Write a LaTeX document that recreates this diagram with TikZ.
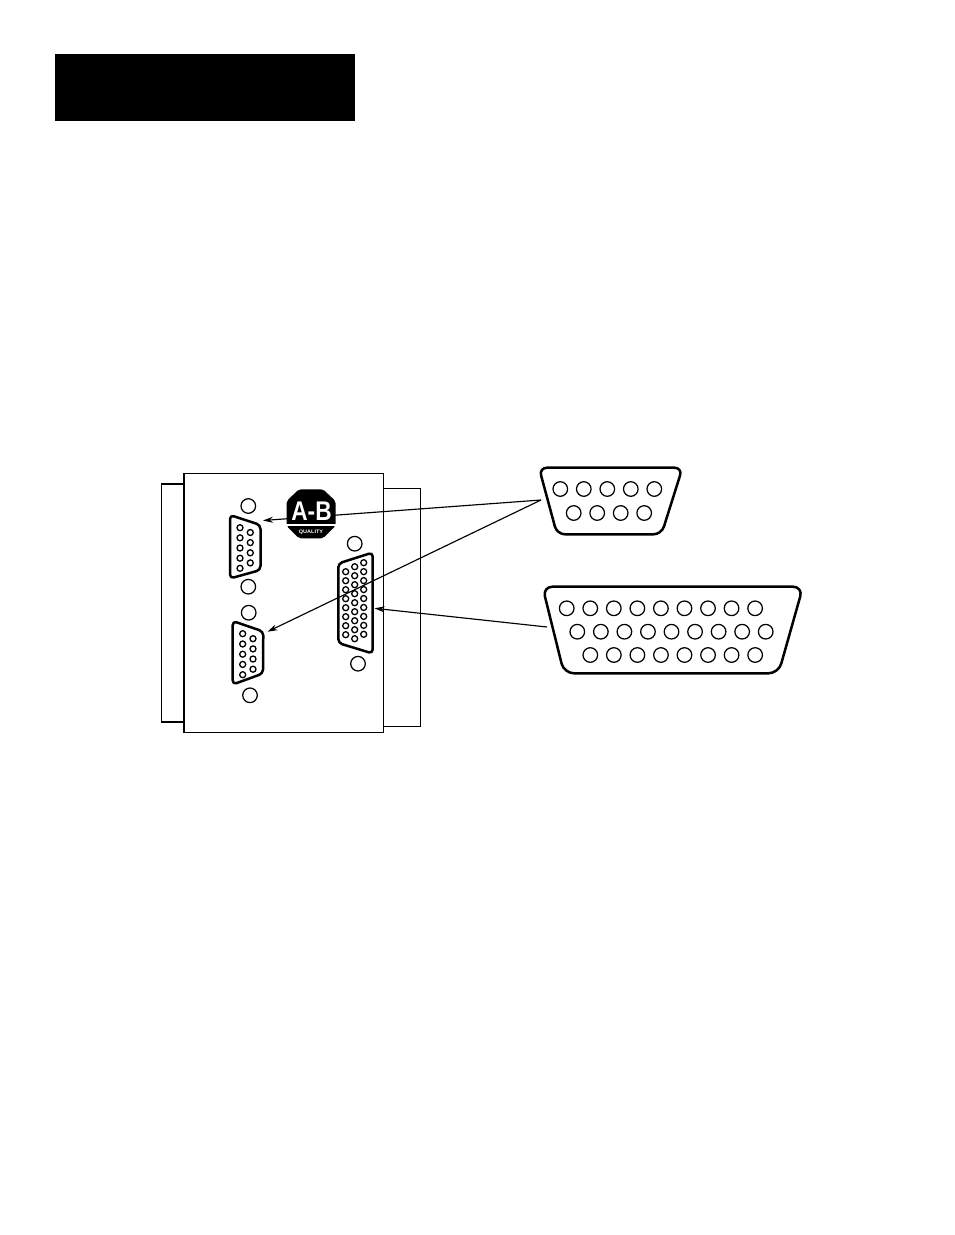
\documentclass[tikz,border=0pt]{standalone}
\usepackage{fontspec}
\setmainfont{Liberation Sans}
\usetikzlibrary{arrows.meta}
\tikzset{
    shell/.style={line width=2.5pt, line join=round, rounded corners=4pt},
    pin/.style={line width=1.3pt},
    hole/.style={line width=1.25pt},
    callout/.style={line width=1.15pt, -{Stealth[length=10pt,width=6pt]}},
    logotext/.style={text=white, inner sep=0pt, font=\bfseries}
}
\begin{document}
\begin{tikzpicture}[x=1pt,y=-1pt]
        \useasboundingbox (0,0) rectangle (954,1235);

        % Title bar
        \fill[black] (55,54) rectangle (355,121);

        % Side plates and front panel
        \draw[line width=1.6pt] (183.5,484) -- (161.5,484) -- (161.5,722) -- (183.5,722);
        \draw[line width=1pt] (383,488.5) -- (420.5,488.5) -- (420.5,726) -- (383,726);
        \draw[line width=1.4pt] (184,473.5) rectangle (383.5,732.5);

        % Upper 9 pin socket on panel
        \draw[shell] (230,515) -- (260.5,525) -- (260.5,570) -- (230,578.5) -- cycle;
        \foreach \y in {527.7,537.8,548,558.2,568.3} \draw[pin] (240,\y) circle (3);
        \foreach \y in {532.5,542.6,552.8,562.9} \draw[pin] (250.3,\y) circle (3);
        \draw[hole] (248.3,506) circle (7.3);
        \draw[hole] (248.3,586.7) circle (7.3);

        % Lower 9 pin socket on panel
        \draw[shell] (232.7,621) -- (263.3,631.5) -- (263,673.5) -- (232.7,684.5) -- cycle;
        \foreach \y in {633.7,644,654.2,664.4,674.7} \draw[pin] (242.7,\y) circle (3);
        \foreach \y in {638.7,648.9,659,669.2} \draw[pin] (253,\y) circle (3);
        \draw[hole] (248.7,612.7) circle (7.3);
        \draw[hole] (250,695.3) circle (7.3);

        % 25 pin socket on panel
        \draw[shell] (338.3,563.5) -- (372.7,552.5) -- (372.7,653.5) -- (338.3,643) -- cycle;
        \foreach \k in {0,...,7} \draw[pin] (345.7,571.7+9*\k) circle (3);
        \foreach \k in {0,...,8} \draw[pin] (354.7,566.7+9*\k) circle (3);
        \foreach \k in {0,...,8} \draw[pin] (363.7,562.7+8.95*\k) circle (3);
        \draw[hole] (354.7,543.7) circle (7.3);
        \draw[hole] (358,663.7) circle (7.3);

        % 9 pin connector, enlarged
        \coordinate (smalltip) at (541,500);
        \draw[shell,rounded corners=8pt] (539,467.7) -- (682.5,467.7) -- (661.5,534.3) -- (557,534.3) -- cycle;
        \foreach \k in {0,...,4} \draw[hole] (560.3+23.5*\k,489) circle (7.3);
        \foreach \k in {0,...,3} \draw[hole] (573.7+23.5*\k,513) circle (7.3);

        % 25 pin connector, enlarged
        \coordinate (bigtip) at (547,627);
        \draw[shell,rounded corners=10pt] (542.5,586.7) -- (803,586.7) -- (778.5,673.3) -- (564,673.3) -- cycle;
        \foreach \k in {0,...,8} \draw[hole] (566.7+23.55*\k,608.3) circle (7.3);
        \foreach \k in {0,...,8} \draw[hole] (577.3+23.55*\k,631.7) circle (7.3);
        \foreach \k in {0,...,7} \draw[hole] (590.3+23.55*\k,655) circle (7.3);

        % Callouts
        \coordinate (uppersocket) at (263,520.5);
        \coordinate (lowersocket) at (267.5,631.7);
        \coordinate (widesocket) at (374.5,608.3);
        \draw[callout] (smalltip) -- (uppersocket);
        \draw[callout] (smalltip) -- (lowersocket);
        \draw[callout] (bigtip) -- (widesocket);

        % Logo
        \fill[black,rounded corners=2pt] (299,489.3) -- (323,489.3) -- (335.5,501) -- (335.5,526) -- (323,538.3) -- (299,538.3) -- (286.7,526) -- (286.7,501) -- cycle;
        \fill[white] (286,524.4) rectangle (336,526);
        \node[logotext,xscale=0.84] (logoname) at (311.5,511.5) {\fontsize{27}{27}\selectfont A-B};
        \node[logotext,xscale=1.1] (logoquality) at (311,531.8) {\fontsize{5}{5}\selectfont QUALITY};
    \end{tikzpicture}
\end{document}
